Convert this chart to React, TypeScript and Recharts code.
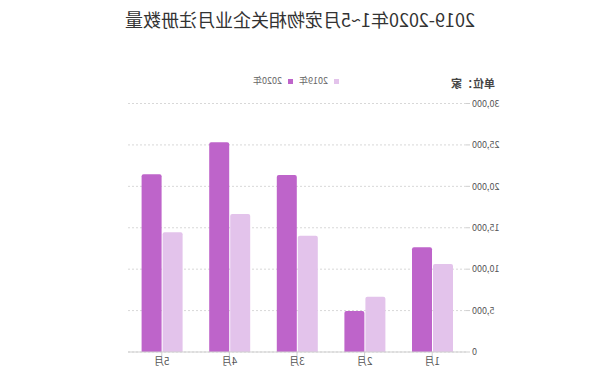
import React from "react";
import { BarChart, Bar, XAxis, YAxis, CartesianGrid } from "recharts";

const months = ["1月", "2月", "3月", "4月", "5月"];
const values2019 = [10620, 6680, 14040, 16660, 14450];
const values2020 = [12640, 4950, 21370, 25320, 21450];
const yTicks = [0, 5000, 10000, 15000, 20000, 25000, 30000];
const title = "2019-2020年1~5月宠物相关企业月注册数量";
const unitLabel = "单位：家";
const seriesNames = ["2019年", "2020年"];
const colors = ["#e3c3eb", "#be64ca"];

const data = months.map((m, i) => ({ month: m, y2019: values2019[i], y2020: values2020[i] }));

const FONT = '"Noto Sans CJK SC", "Noto Sans", sans-serif';

export default function App() {
  return (
    <div
      style={{
        position: "absolute",
        left: 0,
        top: 0,
        width: 600,
        height: 382,
        background: "#fff",
        transform: "scaleX(-1)",
        fontFamily: FONT,
      }}
    >
      <div
        style={{
          position: "absolute",
          top: 7,
          left: 0,
          width: 600,
          textAlign: "center",
          fontSize: 18,
          color: "#333",
          lineHeight: "24px",
        }}
      >
        {title}
      </div>
      <div
        style={{
          position: "absolute",
          top: 76,
          left: 105,
          fontSize: 11,
          fontWeight: 600,
          color: "#444",
          lineHeight: "14px",
        }}
      >
        {unitLabel}
      </div>
      <div
        style={{
          position: "absolute",
          top: 74,
          left: 261,
          display: "flex",
          alignItems: "center",
          fontSize: 9,
          color: "#666",
          lineHeight: "14px",
        }}
      >
        {seriesNames.map((n, i) => (
          <div key={n} style={{ display: "flex", alignItems: "center", marginRight: 6 }}>
            <span style={{ width: 5, height: 5, background: colors[i], display: "inline-block", marginRight: 6 }} />
            <span>{n}</span>
          </div>
        ))}
      </div>
      <BarChart
        width={600}
        height={382}
        data={data}
        margin={{ top: 103.5, right: 128, bottom: 0, left: 74 }}
        barSize={20}
        barGap={1}
        style={{ position: "absolute", left: 0, top: 0 }}
      >
        <CartesianGrid vertical={false} stroke="#d8d8d8" strokeDasharray="2 2" />
        <XAxis
          dataKey="month"
          height={30}
          tickSize={4}
          tickMargin={2}
          axisLine={{ stroke: "#cfcfcf" }}
          tickLine={{ stroke: "#cfcfcf" }}
          tick={{ fontSize: 10, fill: "#555", fontFamily: FONT }}
        />
        <YAxis
          width={60}
          domain={[0, 30000]}
          ticks={yTicks}
          axisLine={false}
          tickSize={4}
          tickMargin={2}
          tickLine={{ stroke: "#cfcfcf" }}
          tickFormatter={(v: number) => v.toLocaleString("en-US")}
          tick={{ fontSize: 9, fill: "#555", fontFamily: FONT }}
        />
        <Bar dataKey="y2019" fill={colors[0]} radius={[2, 2, 0, 0]} isAnimationActive={false} />
        <Bar dataKey="y2020" fill={colors[1]} radius={[2, 2, 0, 0]} isAnimationActive={false} />
      </BarChart>
    </div>
  );
}
